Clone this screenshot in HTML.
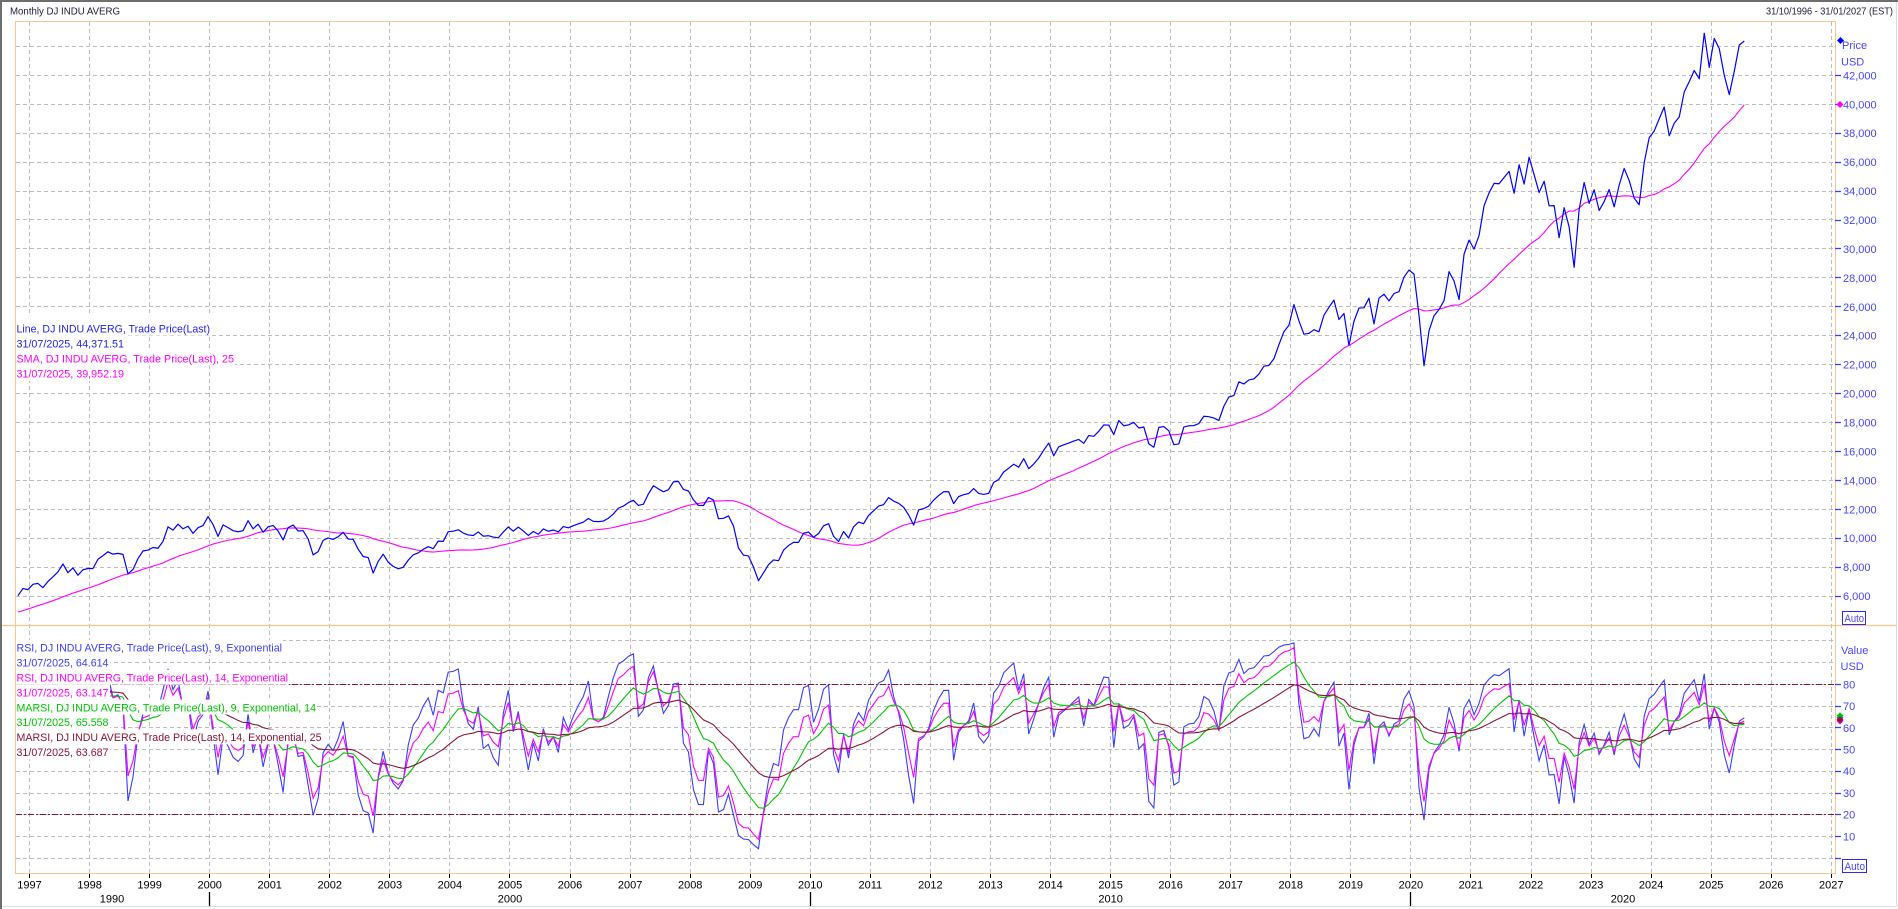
<!DOCTYPE html>
<html><head><meta charset="utf-8">
<style>
html,body{margin:0;padding:0;background:#fff;width:1898px;height:909px;overflow:hidden}
svg{display:block}
text{font-family:"Liberation Sans",Arial,sans-serif}
</style></head><body>
<svg id="c" xmlns="http://www.w3.org/2000/svg" width="1898" height="909" viewBox="0 0 1898 909">
<defs>
<clipPath id="cp"><rect x="16" y="22" width="1819" height="603"/></clipPath>
<clipPath id="cr"><rect x="16" y="626" width="1819" height="247"/></clipPath>
</defs>
<rect width="1898" height="909" fill="#fff"/>
<g id="grid"></g>
<g clip-path="url(#cr)">
<path d="M16 684.5H1835M16 814.5H1835" stroke="#8b1538" stroke-width="1" stroke-dasharray="6,2,2,2" fill="none"/>
</g>
<g id="plines" clip-path="url(#cp)"></g>
<g id="rlines" clip-path="url(#cr)"></g>

<!-- upper legend -->
<g>
<rect x="16" y="316" width="195" height="19.5" fill="#fff"/>
<rect x="16" y="335.5" width="109" height="15" fill="#fff"/>
<rect x="16" y="350.5" width="219" height="15" fill="#fff"/>
<rect x="16" y="365.5" width="109" height="15.5" fill="#fff"/>
<text x="16.5" y="332.3" font-size="11" fill="#2424e6" textLength="193.5" lengthAdjust="spacingAndGlyphs">Line, DJ INDU AVERG, Trade Price(Last)</text>
<text x="16.5" y="347.4" font-size="11" fill="#2424e6" textLength="107.5" lengthAdjust="spacingAndGlyphs">31/07/2025, 44,371.51</text>
<text x="16.5" y="362.5" font-size="11" fill="#ff00ff" textLength="217.5" lengthAdjust="spacingAndGlyphs">SMA, DJ INDU AVERG, Trade Price(Last),  25</text>
<text x="16.5" y="377.6" font-size="11" fill="#ff00ff" textLength="107.5" lengthAdjust="spacingAndGlyphs">31/07/2025, 39,952.19</text>
</g>

<!-- lower legend -->
<g>
<rect x="16" y="640" width="267" height="14.9" fill="#fff"/>
<rect x="16" y="654.9" width="94" height="14.9" fill="#fff"/>
<rect x="16" y="669.8" width="273" height="14.9" fill="#fff"/>
<rect x="16" y="684.7" width="94" height="14.9" fill="#fff"/>
<rect x="16" y="699.6" width="301" height="14.9" fill="#fff"/>
<rect x="16" y="714.5" width="94" height="14.9" fill="#fff"/>
<rect x="16" y="729.4" width="306" height="14.9" fill="#fff"/>
<rect x="16" y="744.3" width="94" height="14.9" fill="#fff"/>
<text x="16.5" y="651.7" font-size="11" fill="#3c3cff" textLength="265.5" lengthAdjust="spacingAndGlyphs">RSI, DJ INDU AVERG, Trade Price(Last),  9, Exponential</text>
<text x="16.5" y="666.6" font-size="11" fill="#3c3cff" textLength="92" lengthAdjust="spacingAndGlyphs">31/07/2025, 64.614</text>
<text x="16.5" y="681.5" font-size="11" fill="#ff00ff" textLength="271.5" lengthAdjust="spacingAndGlyphs">RSI, DJ INDU AVERG, Trade Price(Last),  14, Exponential</text>
<text x="16.5" y="696.4" font-size="11" fill="#ff00ff" textLength="92" lengthAdjust="spacingAndGlyphs">31/07/2025, 63.147</text>
<text x="16.5" y="711.3" font-size="11" fill="#00c400" textLength="299.5" lengthAdjust="spacingAndGlyphs">MARSI, DJ INDU AVERG, Trade Price(Last),  9, Exponential, 14</text>
<text x="16.5" y="726.2" font-size="11" fill="#00c400" textLength="92" lengthAdjust="spacingAndGlyphs">31/07/2025, 65.558</text>
<text x="16.5" y="741.1" font-size="11" fill="#8b1538" textLength="305" lengthAdjust="spacingAndGlyphs">MARSI, DJ INDU AVERG, Trade Price(Last),  14, Exponential, 25</text>
<text x="16.5" y="756.0" font-size="11" fill="#8b1538" textLength="92" lengthAdjust="spacingAndGlyphs">31/07/2025, 63.687</text>
</g>

<!-- frame borders -->
<rect x="0" y="0" width="1898" height="2" fill="#6e6e6e"/>
<rect x="0" y="0" width="2" height="909" fill="#6e6e6e"/>
<rect x="1896" y="2" width="1" height="905" fill="#dcdcdc"/>
<rect x="2" y="906" width="1895" height="1" fill="#dcdcdc"/>

<!-- plot borders -->
<path d="M15.5 21.5H1835.5V873.5H15.5Z" stroke="#f8c68e" stroke-width="1" fill="none"/>
<path d="M2 625.5H1897" stroke="#f8c68e" stroke-width="1.2" fill="none"/>

<!-- header -->
<text x="10" y="14.5" font-size="10" fill="#1c1c3c" textLength="110" lengthAdjust="spacingAndGlyphs">Monthly DJ INDU AVERG</text>
<text x="1766" y="14.5" font-size="10" fill="#1c1c3c" textLength="127" lengthAdjust="spacingAndGlyphs">31/10/1996 - 31/01/2027 (EST)</text>

<!-- price axis ticks -->
<path d="M1835 596.5H1841M1835 567.5H1841M1835 538.5H1841M1835 509.5H1841M1835 480.5H1841M1835 451.5H1841M1835 422.5H1841M1835 393.5H1841M1835 364.5H1841M1835 335.5H1841M1835 306.5H1841M1835 277.5H1841M1835 248.5H1841M1835 220.5H1841M1835 191.5H1841M1835 162.5H1841M1835 133.5H1841M1835 104.5H1841M1835 75.5H1841M1835 858.5H1841M1835 836.5H1841M1835 814.5H1841M1835 793.5H1841M1835 771.5H1841M1835 749.5H1841M1835 727.5H1841M1835 706.5H1841M1835 684.5H1841" stroke="#3a3aff" stroke-width="1.2" fill="none"/>

<g font-size="11" fill="#4646ff">
<text x="1842" y="49">Price</text>
<text x="1841" y="65.3">USD</text>
<text x="1843" y="79.3">42,000</text>
<text x="1843" y="108.3">40,000</text>
<text x="1843" y="137.2">38,000</text>
<text x="1843" y="166.1">36,000</text>
<text x="1843" y="195">34,000</text>
<text x="1843" y="224">32,000</text>
<text x="1843" y="252.9">30,000</text>
<text x="1843" y="281.8">28,000</text>
<text x="1843" y="310.8">26,000</text>
<text x="1843" y="339.7">24,000</text>
<text x="1843" y="368.6">22,000</text>
<text x="1843" y="397.6">20,000</text>
<text x="1843" y="426.5">18,000</text>
<text x="1843" y="455.4">16,000</text>
<text x="1843" y="484.4">14,000</text>
<text x="1843" y="513.3">12,000</text>
<text x="1843" y="542.2">10,000</text>
<text x="1843" y="571.2">8,000</text>
<text x="1843" y="600.1">6,000</text>
<text x="1841" y="654">Value</text>
<text x="1840.5" y="670">USD</text>
<text x="1843" y="688.3">80</text>
<text x="1843" y="710">70</text>
<text x="1843" y="731.8">60</text>
<text x="1843" y="753.5">50</text>
<text x="1843" y="775.2">40</text>
<text x="1843" y="797">30</text>
<text x="1843" y="818.7">20</text>
<text x="1843" y="840.5">10</text>
</g>
<rect x="1842.5" y="611.5" width="23" height="13" fill="#fff" stroke="#2a2aff" stroke-width="1"/>
<text x="1844.5" y="622" font-size="11" fill="#4646ff" textLength="19.5" lengthAdjust="spacingAndGlyphs">Auto</text>
<rect x="1842.5" y="859.5" width="24" height="13" fill="#fff" stroke="#2a2aff" stroke-width="1"/>
<text x="1844.5" y="870" font-size="11" fill="#4646ff" textLength="20.5" lengthAdjust="spacingAndGlyphs">Auto</text>

<!-- markers -->
<polygon points="1840.5,37 1844,40.5 1840.5,44 1837,40.5" fill="#0000ff"/>
<polygon points="1840,101 1843.5,104.5 1840,108 1836.5,104.5" fill="#ff00ff"/>
<polygon points="1840,714.3 1843.5,717.8 1840,721.3 1836.5,717.8" fill="#3c3cff"/>
<polygon points="1840,717.5 1843.5,721 1840,724.5 1836.5,721" fill="#ff00ff"/>
<polygon points="1840,712.3 1843.5,715.8 1840,719.3 1836.5,715.8" fill="#00c400"/>
<polygon points="1840,716.3 1843.5,719.8 1840,723.3 1836.5,719.8" fill="#8b1538"/>

<!-- x axis ticks -->
<path id="xt" d="" stroke="#000" stroke-width="1" fill="none"/>
<path d="M209.5 892V906M810.5 892V906M1410.5 892V906" stroke="#000" stroke-width="1.3" fill="none"/>
<g font-size="11" fill="#000" text-anchor="middle">
<text x="29.5" y="888.3">1997</text>
<text x="89.6" y="888.3">1998</text>
<text x="149.6" y="888.3">1999</text>
<text x="209.7" y="888.3">2000</text>
<text x="269.7" y="888.3">2001</text>
<text x="329.8" y="888.3">2002</text>
<text x="389.9" y="888.3">2003</text>
<text x="449.9" y="888.3">2004</text>
<text x="510" y="888.3">2005</text>
<text x="570" y="888.3">2006</text>
<text x="630.1" y="888.3">2007</text>
<text x="690.2" y="888.3">2008</text>
<text x="750.2" y="888.3">2009</text>
<text x="810.3" y="888.3">2010</text>
<text x="870.3" y="888.3">2011</text>
<text x="930.4" y="888.3">2012</text>
<text x="990.5" y="888.3">2013</text>
<text x="1050.5" y="888.3">2014</text>
<text x="1110.6" y="888.3">2015</text>
<text x="1170.6" y="888.3">2016</text>
<text x="1230.7" y="888.3">2017</text>
<text x="1290.8" y="888.3">2018</text>
<text x="1350.8" y="888.3">2019</text>
<text x="1410.9" y="888.3">2020</text>
<text x="1470.9" y="888.3">2021</text>
<text x="1531" y="888.3">2022</text>
<text x="1591.1" y="888.3">2023</text>
<text x="1651.1" y="888.3">2024</text>
<text x="1711.2" y="888.3">2025</text>
<text x="1771.2" y="888.3">2026</text>
<text x="1831.3" y="888.3">2027</text>
<text x="112" y="902.3">1990</text>
<text x="510" y="902.3">2000</text>
<text x="1110.6" y="902.3">2010</text>
<text x="1623" y="902.3">2020</text>
</g>
</svg>
<script>
(function(){
var D=[3310,3370,3435,3428,3527,3516,3540,3651,3555,3681,3684,3754,
3978,3832,3636,3682,3758,3625,3765,3913,3843,3908,3739,3834,
3844,4011,4158,4321,4465,4556,4708,4611,4789,4755,5074,5117,
5395,5486,5587,5569,5643,5655,5529,5616,5882,6029,6522,6448,
6813,6878,6583,7009,7331,7673,8223,7622,7945,7442,7823,7908,
7907,8546,8800,9063,8900,8952,8883,7539,7843,8592,9117,9181,
9359,9307,9786,10789,10560,10971,10655,10829,10337,10730,10878,11497,
10941,10128,10922,10734,10522,10448,10522,11215,10651,10971,10414,10788,
10887,10495,9879,10735,10912,10502,10523,9950,8848,9075,9852,10022,
9920,10106,10404,9946,9925,9243,8737,8664,7592,8397,8896,8342,
8054,7891,7992,8480,8850,8985,9234,9416,9275,9801,9782,10454,
10488,10584,10358,10226,10188,10435,10140,10174,10080,10027,10428,10783,
10490,10766,10504,10193,10467,10275,10641,10482,10569,10440,10806,10718,
10865,10993,11109,11367,11168,11150,11186,11381,11679,12081,12222,12463,
12622,12269,12354,13063,13628,13409,13212,13358,13896,13930,13372,13265,
12650,12266,12263,12820,12638,11350,11378,11544,10851,9325,8829,8776,
8001,7063,7609,8168,8500,8447,9172,9496,9712,9713,10345,10428,
10067,10325,10857,11009,10137,9774,10466,10015,10788,11118,11006,11578,
11892,12226,12320,12811,12570,12414,12143,11614,10913,11955,12046,12218,
12633,12952,13212,13214,12393,12880,13009,13091,13437,13096,13026,13104,
13861,14054,14579,14840,15116,14910,15500,14810,15130,15546,16086,16577,
15699,16322,16458,16581,16717,16827,16563,17098,17043,17391,17828,17823,
17165,18133,17776,17841,18011,17620,17690,16528,16285,17664,17720,17425,
16466,16517,17685,17774,17787,17930,18432,18401,18308,18142,19124,19763,
19864,20812,20663,20941,21009,21350,21891,21948,22405,23377,24272,24719,
26149,25029,24103,24163,24416,24271,25415,25965,26458,25116,25538,23327,
25000,25916,25929,26593,24815,26600,26864,26403,26917,27046,28051,28538,
28256,25409,21917,24346,25383,25813,26428,28430,27782,26502,29639,30606,
29983,30932,32982,33875,34529,34503,34935,35361,33844,35820,34484,36338,
35132,33893,34678,32977,32990,30775,32845,31510,28726,32733,34590,33147,
34086,32657,33274,34098,32908,34408,35560,34722,33508,33053,35951,37690,
38150,38996,39807,37816,38686,39119,40843,41563,42330,41763,44911,42544,
44545,43841,42002,40669,42270,44095,44371.51];
var S=45,N=D.length,i,j;
function X(i){return 17.9+(i-S)*5.004;}
function YP(v){return 509.3-(v-12000)*0.014467;}
function YR(v){return 858.3-v*2.174;}
var ns='http://www.w3.org/2000/svg';
function el(p,tag,a){var e=document.createElementNS(ns,tag);for(var k in a)e.setAttribute(k,a[k]);p.appendChild(e);return e;}
var gp='',xt='';
for(var k=0;k<=30;k++){var x=Math.floor(29.5+k*60.06)+0.5;gp+='M'+x+' 22V873';xt+='M'+x+' 874V878';}
for(var v=6000;v<=44000;v+=2000){var y=Math.floor(YP(v))+0.5;gp+='M16 '+y+'H1835';}
for(v=0;v<=100;v+=10){y=Math.floor(YR(v))+0.5;gp+='M16 '+y+'H1835';}
el(document.getElementById('grid'),'path',{d:gp,stroke:'#bdbdbd','stroke-width':1,'stroke-dasharray':'4,3',fill:'none'});
document.getElementById('xt').setAttribute('d',xt);
function path(arr,yf){var s='';for(var i=S;i<N;i++){s+=(i==S?'M':'L')+X(i).toFixed(2)+' '+yf(arr[i]).toFixed(2);}return s;}
var sma=[];for(i=24;i<N;i++){var t=0;for(j=i-24;j<=i;j++)t+=D[j];sma[i]=t/25;}
function rsi(n){var a=2/(n+1),G=0,L=0,o=[50];for(var i=1;i<N;i++){var c=D[i]-D[i-1],gg=c>0?c:0,ll=c<0?-c:0;if(i==1){G=gg;L=ll;}else{G+=a*(gg-G);L+=a*(ll-L);}o[i]=(G+L)==0?50:100*G/(G+L);}return o;}
function ema(arr,m){var b=2/(m+1),E=arr[1],o=[arr[0],E];for(var i=2;i<N;i++){E+=b*(arr[i]-E);o[i]=E;}return o;}
var pl=document.getElementById('plines');
el(pl,'path',{d:path(sma,YP),stroke:'#ff00ff','stroke-width':1.1,fill:'none','stroke-linejoin':'round'});
el(pl,'path',{d:path(D,YP),stroke:'#0000ff','stroke-width':1.2,fill:'none','stroke-linejoin':'round'});
var r9=rsi(9),r14=rsi(14),m9=ema(r9,14),m14=ema(r14,25);
var rl=document.getElementById('rlines');
el(rl,'path',{d:path(r9,YR),stroke:'#3c3cff','stroke-width':1.1,fill:'none'});
el(rl,'path',{d:path(r14,YR),stroke:'#ff00ff','stroke-width':1.1,fill:'none'});
el(rl,'path',{d:path(m9,YR),stroke:'#00c400','stroke-width':1.1,fill:'none'});
el(rl,'path',{d:path(m14,YR),stroke:'#8b1538','stroke-width':1.1,fill:'none'});
})();
</script>
</body></html>
